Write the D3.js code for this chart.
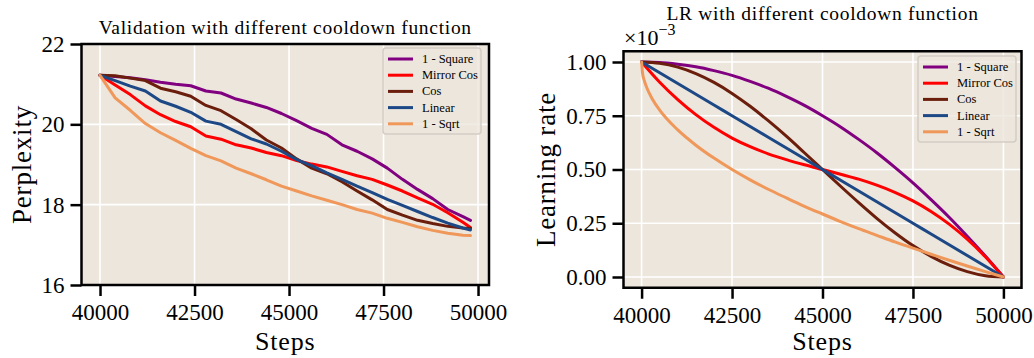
<!DOCTYPE html>
<html>
<head>
<meta charset="utf-8">
<script src="https://cdn.jsdelivr.net/npm/d3@7"></script>
<style>
  body { margin: 0; background: #fff; }
  text { font-family: "Liberation Serif", "DejaVu Serif", serif; fill: #000; }
</style>
</head>
<body>
<div id="chart"></div>
<script>
// series names, in legend order
var seriesNames = ["1 - Square", "Mirror Cos", "Cos", "Linear", "1 - Sqrt"];
var seriesColors = ["#800080", "#ff0000", "#6b1e0c", "#1d4886", "#f0975a"];

// validation perplexity (left), every 400 steps
var valSteps = [40000, 40400, 40800, 41200, 41600, 42000, 42400, 42800, 43200, 43600,
  44000, 44400, 44800, 45200, 45600, 46000, 46400, 46800, 47200, 47600,
  48000, 48400, 48800, 49200, 49600, 49800];
var valSquare = [21.22, 21.19, 21.16, 21.11, 21.05, 21.00, 20.96, 20.83, 20.78, 20.63,
  20.53, 20.42, 20.27, 20.09, 19.90, 19.75, 19.49, 19.33, 19.14, 18.91,
  18.63, 18.38, 18.15, 17.88, 17.70, 17.61];
var valMirrorCos = [21.22, 20.98, 20.74, 20.46, 20.24, 20.07, 19.94, 19.71, 19.63, 19.49,
  19.41, 19.30, 19.22, 19.10, 19.01, 18.94, 18.83, 18.72, 18.63, 18.49,
  18.34, 18.17, 18.01, 17.80, 17.56, 17.43];
var valCos = [21.22, 21.21, 21.15, 21.09, 20.90, 20.81, 20.70, 20.47, 20.34, 20.12,
  19.89, 19.61, 19.41, 19.14, 18.91, 18.77, 18.57, 18.34, 18.12, 17.88,
  17.74, 17.61, 17.53, 17.46, 17.42, 17.41];
var valLinear = [21.22, 21.09, 20.95, 20.83, 20.58, 20.45, 20.30, 20.08, 20.00, 19.82,
  19.64, 19.51, 19.33, 19.12, 18.97, 18.79, 18.63, 18.46, 18.30, 18.13,
  17.98, 17.83, 17.68, 17.54, 17.42, 17.37];
var valSqrt = [21.22, 20.66, 20.35, 20.02, 19.79, 19.60, 19.40, 19.22, 19.09, 18.91,
  18.77, 18.62, 18.46, 18.34, 18.22, 18.11, 18.00, 17.88, 17.79, 17.66,
  17.56, 17.45, 17.36, 17.29, 17.24, 17.23];

// learning rate (right), x1e-3, every 500 steps
var lrSteps = [40000, 40500, 41000, 41500, 42000, 42500, 43000, 43500, 44000, 44500,
  45000, 45500, 46000, 46500, 47000, 47500, 48000, 48500, 49000, 49500, 50000];
var lrSquare = [1.000, 0.998, 0.990, 0.978, 0.960, 0.938, 0.910, 0.878, 0.840, 0.798,
  0.750, 0.698, 0.640, 0.578, 0.510, 0.438, 0.360, 0.278, 0.190, 0.098, 0.000];
var lrMirrorCos = [1.000, 0.906, 0.825, 0.755, 0.696, 0.646, 0.606, 0.573, 0.546, 0.522,
  0.500, 0.478, 0.455, 0.427, 0.394, 0.354, 0.305, 0.246, 0.176, 0.094, 0.000];
var lrCos = [1.000, 0.994, 0.976, 0.946, 0.905, 0.854, 0.794, 0.727, 0.655, 0.578,
  0.500, 0.422, 0.346, 0.273, 0.206, 0.146, 0.096, 0.055, 0.025, 0.006, 0.000];
var lrLinear = [1.000, 0.950, 0.900, 0.850, 0.800, 0.750, 0.700, 0.650, 0.600, 0.550,
  0.500, 0.450, 0.400, 0.350, 0.300, 0.250, 0.200, 0.150, 0.100, 0.050, 0.000];
// 1 - Sqrt falls steeply at the start, so it is read more densely there
var lrStepsSqrt = [40000, 40025, 40075, 40150, 40300, 40500, 41000, 41500, 42000, 42500,
  43000, 43500, 44000, 44500, 45000, 45500, 46000, 46500, 47000, 47500,
  48000, 48500, 49000, 49500, 50000];
var lrSqrt = [1.000, 0.950, 0.913, 0.878, 0.827, 0.776, 0.684, 0.613, 0.553, 0.500,
  0.452, 0.408, 0.368, 0.329, 0.293, 0.258, 0.225, 0.194, 0.163, 0.134,
  0.106, 0.078, 0.051, 0.025, 0.000];

var stepTicks = [40000, 42500, 45000, 47500, 50000];
var valTicks = [16, 18, 20, 22];
var lrTicks = [0, 0.25, 0.5, 0.75, 1.0];

var svg = d3.select("#chart")
  .append("svg")
  .attr("width", 1034)
  .attr("height", 358);

var plotBg = "#ece6dd";

// draws one panel: background, grid, lines, frame, axes, legend
function drawPanel(opts) {
  var x = d3.scaleLinear().domain(opts.xDomain).range([opts.left, opts.right]);
  var y = d3.scaleLinear().domain(opts.yDomain).range([opts.bottom, opts.top]);

  svg.append("rect")
    .attr("x", opts.left).attr("y", opts.top)
    .attr("width", opts.right - opts.left)
    .attr("height", opts.bottom - opts.top)
    .attr("fill", plotBg);

  // grid
  svg.append("g").selectAll("line")
    .data(opts.xTicks).enter().append("line")
    .attr("x1", d => x(d)).attr("x2", d => x(d))
    .attr("y1", opts.top).attr("y2", opts.bottom)
    .attr("stroke", "#fff").attr("stroke-width", 1.6);
  svg.append("g").selectAll("line")
    .data(opts.yTicks).enter().append("line")
    .attr("y1", d => y(d)).attr("y2", d => y(d))
    .attr("x1", opts.left).attr("x2", opts.right)
    .attr("stroke", "#fff").attr("stroke-width", 1.6);

  // lines
  opts.series.forEach(function(vals, i) {
    var steps = opts.steps[i];
    var line = d3.line()
      .x((d, j) => x(steps[j]))
      .y(d => y(d))
      .curve(opts.curve);
    svg.append("path")
      .datum(vals)
      .attr("d", line)
      .attr("fill", "none")
      .attr("stroke", seriesColors[i])
      .attr("stroke-width", 3)
      .attr("stroke-linejoin", "round")
      .attr("stroke-linecap", "round");
  });

  // axes
  var bottomAxis = d3.axisBottom(x).tickValues(opts.xTicks).tickSize(11).tickPadding(6)
    .tickFormat(d3.format("d"));
  var leftAxis = d3.axisLeft(y).tickValues(opts.yTicks).tickSize(11).tickPadding(6)
    .tickFormat(opts.yFormat);

  var xAxis = svg.append("g")
    .attr("transform", `translate(0, ${opts.bottom})`)
    .call(bottomAxis);
  var yAxis = svg.append("g")
    .attr("transform", `translate(${opts.left}, 0)`)
    .call(leftAxis);
  [xAxis, yAxis].forEach(function(a) {
    a.select(".domain").remove();
    a.selectAll("line").attr("stroke", "#000").attr("stroke-width", 2.5);
    a.selectAll("text").attr("font-size", 23).attr("fill", "#000")
      .attr("font-family", "Liberation Serif");
  });
  xAxis.selectAll("text").attr("dy", "0.8em");

  // frame
  svg.append("rect")
    .attr("x", opts.left).attr("y", opts.top)
    .attr("width", opts.right - opts.left)
    .attr("height", opts.bottom - opts.top)
    .attr("fill", "none")
    .attr("stroke", "#000")
    .attr("stroke-width", 2.5);

  // titles and labels
  var cx = (opts.left + opts.right) / 2;
  svg.append("text")
    .attr("x", cx).attr("y", opts.titleY)
    .attr("text-anchor", "middle")
    .attr("font-size", 19.5)
    .attr("letter-spacing", 0.7)
    .attr("fill", "#222")
    .text(opts.title);
  svg.append("text")
    .attr("x", cx).attr("y", 350)
    .attr("text-anchor", "middle")
    .attr("font-size", 26)
    .attr("letter-spacing", 0.8)
    .text("Steps");
  svg.append("text")
    .attr("transform", `translate(${opts.yLabelX}, ${(opts.top + opts.bottom) / 2}) rotate(-90)`)
    .attr("text-anchor", "middle")
    .attr("font-size", 27)
    .attr("letter-spacing", 0.8)
    .text(opts.yLabel);

  // legend
  var lg = svg.append("g")
    .attr("transform", `translate(${opts.legendX}, ${opts.legendY})`);
  lg.append("rect")
    .attr("width", 98).attr("height", 86)
    .attr("rx", 3)
    .attr("fill", plotBg)
    .attr("fill-opacity", 0.8)
    .attr("stroke", "#d2cdc5")
    .attr("stroke-width", 1.5);
  var items = lg.selectAll(".item")
    .data(seriesNames).enter().append("g")
    .attr("transform", (d, i) => `translate(0, ${11 + i * 16.2})`);
  items.append("line")
    .attr("x1", 5).attr("x2", 30)
    .attr("stroke", (d, i) => seriesColors[i])
    .attr("stroke-width", 3);
  items.append("text")
    .attr("x", 39).attr("y", 4)
    .attr("font-size", 12.5)
    .attr("fill", "#222")
    .text(d => d);

  return { x: x, y: y };
}

// left panel: validation perplexity
drawPanel({
  left: 81.5, right: 489, top: 44, bottom: 285,
  xDomain: [39510, 50290], yDomain: [16, 22],
  xTicks: stepTicks, yTicks: valTicks,
  yFormat: d3.format("d"),
  steps: [valSteps, valSteps, valSteps, valSteps, valSteps],
  series: [valSquare, valMirrorCos, valCos, valLinear, valSqrt],
  curve: d3.curveLinear,
  title: "Validation with different cooldown function", titleY: 34,
  yLabel: "Perplexity", yLabelX: 31,
  legendX: 383, legendY: 48
});

// right panel: learning rate schedule
drawPanel({
  left: 623.5, right: 1021.5, top: 51.25, bottom: 287.75,
  xDomain: [39500, 50500], yDomain: [-0.05, 1.05],
  xTicks: stepTicks, yTicks: lrTicks,
  yFormat: d3.format(".2f"),
  steps: [lrSteps, lrSteps, lrSteps, lrSteps, lrStepsSqrt],
  series: [lrSquare, lrMirrorCos, lrCos, lrLinear, lrSqrt],
  curve: d3.curveMonotoneX,
  title: "LR with different cooldown function", titleY: 20,
  yLabel: "Learning rate", yLabelX: 555,
  legendX: 918, legendY: 56
});

// offset text for the lr axis
var offset = svg.append("text")
  .attr("x", 624).attr("y", 45)
  .attr("font-size", 22);
offset.append("tspan").text("\u00d710");
offset.append("tspan").attr("dy", -10).attr("font-size", 16).text("\u22123");
</script>
</body>
</html>
